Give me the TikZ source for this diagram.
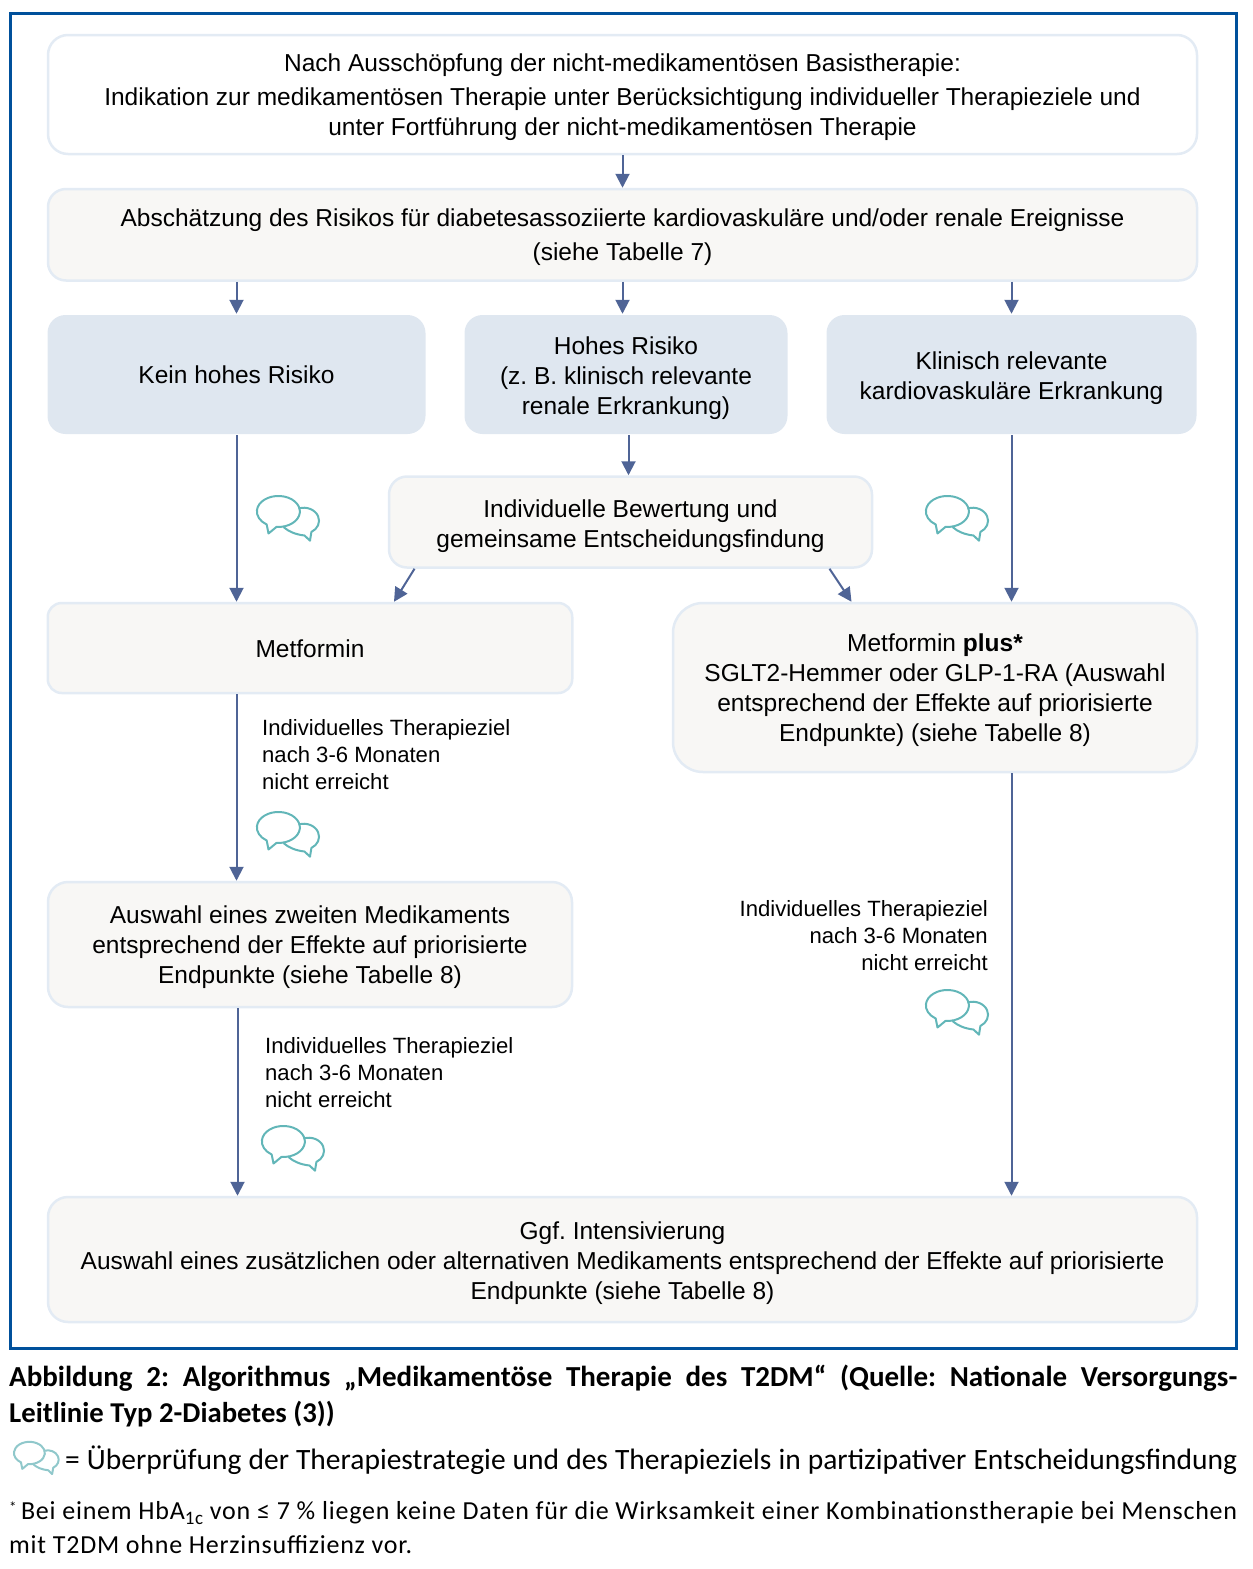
\documentclass[tikz,border=0pt]{standalone}
\usepackage{fontspec}
\setmainfont{Liberation Sans}
\newfontfamily\capfont{Carlito}
\usetikzlibrary{arrows.meta}
\definecolor{rahmen}{HTML}{00509B}
\definecolor{kante}{HTML}{E3EBF4}
\definecolor{grau}{HTML}{F8F7F5}
\definecolor{blau}{HTML}{DFE7F0}
\definecolor{pfeilfarbe}{HTML}{4F6496}
\definecolor{blase}{HTML}{62B6B8}
\definecolor{blasehell}{HTML}{90C8CB}
\tikzset{
  whitebox/.style={draw=kante,line width=2.5pt,fill=white,rounded corners=20pt,inner sep=0pt},
  greybox/.style={whitebox,fill=grau},
  bluebox/.style={whitebox,draw=none,fill=blau,rounded corners=18pt},
  boxtext/.style={align=center,inner sep=0pt,font=\fontsize{24.5}{30}\selectfont},
  hint/.style={inner sep=0pt,font=\fontsize{22.1}{27}\selectfont},
  pfeil/.style={draw=pfeilfarbe,line width=2pt,-{Triangle[length=14pt,width=14pt]}},
  caption/.style={anchor=base west,inner sep=0pt},
  bubbles/.pic={
    \draw[pic actions,line width=2pt,line join=round] (-2,-15.4) arc[start angle=-95,end angle=237,x radius=21.5,y radius=15.5] -- (-10,-22) -- cycle;
    \draw[pic actions,line width=2pt,line join=round] (20,3) arc[start angle=110,end angle=-60,x radius=15.3,y radius=13] -- (31.5,-29.2) -- (26,-24) .. controls (17,-23) and (10,-20) .. (5,-15.5);
  }
}
\begin{document}
\frenchspacing
\begin{tikzpicture}[x=1pt,y=1pt]
\useasboundingbox (0,0) rectangle (1253,-1569);
\draw[rahmen,line width=3pt] (10.5,-13.5) rectangle (1236,-1348);
% boxes
\node[whitebox,minimum width=1149pt,minimum height=119pt] (start) at (622.5,-94.5) {};
\node[greybox,minimum width=1149pt,minimum height=91.5pt,rounded corners=18pt] (risiko) at (622.5,-234.75) {};
\node[bluebox,minimum width=378pt,minimum height=119pt] (kein) at (236.5,-374.5) {};
\node[bluebox,minimum width=323pt,minimum height=119pt] (hoch) at (626,-374.5) {};
\node[bluebox,minimum width=370pt,minimum height=119pt] (klinisch) at (1011.5,-374.5) {};
\node[greybox,minimum width=483pt,minimum height=91pt,rounded corners=18pt] (indiv) at (630.5,-522) {};
\node[greybox,minimum width=524.5pt,minimum height=90pt,rounded corners=14pt] (metformin) at (310,-648) {};
\node[greybox,minimum width=524pt,minimum height=169pt,rounded corners=30pt] (plus) at (935,-687.5) {};
\node[greybox,minimum width=524pt,minimum height=125pt] (auswahl) at (310,-944.5) {};
\node[greybox,minimum width=1149pt,minimum height=125pt] (ggf) at (622.5,-1259.5) {};
% box texts
\node[boxtext] (startT) at ([yshift=-3pt]start) {Nach Ausschöpfung der nicht-medikamentösen Basistherapie:\\[4pt]
Indikation zur medikamentösen Therapie unter Berücksichtigung individueller Therapieziele und\\
unter Fortführung der nicht-medikamentösen Therapie};
\node[boxtext] (risikoT) at ([yshift=-2.5pt]risiko) {Abschätzung des Risikos für diabetesassoziierte kardiovaskuläre und/oder renale Ereignisse\\[4pt]
(siehe Tabelle 7)};
\node[boxtext] (keinT) at ([yshift=-0.5pt]kein) {Kein hohes Risiko};
\node[boxtext] (hochT) at ([yshift=-4pt]hoch) {Hohes Risiko\\(z. B. klinisch relevante\\renale Erkrankung)};
\node[boxtext] (klinischT) at ([yshift=-4pt]klinisch) {Klinisch relevante\\kardiovaskuläre Erkrankung};
\node[boxtext] (indivT) at ([yshift=-4pt]indiv) {Individuelle Bewertung und\\gemeinsame Entscheidungsfindung};
\node[boxtext] (metforminT) at ([yshift=-0.5pt]metformin) {Metformin};
\node[boxtext] (plusT) at ([yshift=-3pt]plus) {Metformin \textbf{plus*}\\SGLT2-Hemmer oder GLP-1-RA (Auswahl\\entsprechend der Effekte auf priorisierte\\Endpunkte) (siehe Tabelle 8)};
\node[boxtext] (auswahlT) at ([yshift=-3pt]auswahl) {Auswahl eines zweiten Medikaments\\entsprechend der Effekte auf priorisierte\\Endpunkte (siehe Tabelle 8)};
\node[boxtext] (ggfT) at ([yshift=-4pt]ggf) {Ggf. Intensivierung\\Auswahl eines zusätzlichen oder alternativen Medikaments entsprechend der Effekte auf priorisierte\\Endpunkte (siehe Tabelle 8)};
% arrows
\draw[pfeil] (start.south) -- (start.south |- risiko.north);
\draw[pfeil] (kein.north |- risiko.south) -- (kein.north);
\draw[pfeil] (risiko.south) -- (risiko.south |- hoch.north);
\draw[pfeil] (klinisch.north |- risiko.south) -- (klinisch.north);
\draw[pfeil] (kein.south) -- (kein.south |- metformin.north);
\draw[pfeil] ([xshift=2.5pt]hoch.south) -- ([xshift=2.5pt]hoch.south |- indiv.north);
\draw[pfeil] (klinisch.south) -- (klinisch.south |- plus.north);
\draw[pfeil] ([xshift=-216pt]indiv.south) -- ([xshift=84pt]metformin.north);
\draw[pfeil] ([xshift=199pt]indiv.south) -- ([xshift=-83.5pt]plus.north);
\draw[pfeil] (kein.south |- metformin.south) -- (kein.south |- auswahl.north);
\draw[pfeil] ([xshift=1pt]kein.south |- auswahl.south) -- ([xshift=1pt]kein.south |- ggf.north);
\draw[pfeil] (klinisch.south |- plus.south) -- (klinisch.south |- ggf.north);
% hints
\node[hint,anchor=west,align=left] (hintA) at (262,-755) {Individuelles Therapieziel\\nach 3-6 Monaten\\nicht erreicht};
\node[hint,anchor=west,align=left] (hintB) at (265,-1073) {Individuelles Therapieziel\\nach 3-6 Monaten\\nicht erreicht};
\node[hint,anchor=east,align=right] (hintC) at (988,-936) {Individuelles Therapieziel\\nach 3-6 Monaten\\nicht erreicht};
% speech bubbles
\foreach \px/\py in {278.5/-511.5,947.5/-511.5,278.5/-827.5,947.5/-1005.5,283.5/-1141.5}
  \pic[draw=blase] at (\px,\py) {bubbles};
\pic[draw=blasehell,scale=0.72] at (29.5,-1453) {bubbles};
% caption
\node[caption] (capA) at (9,-1386) {\capfont\fontsize{29}{34}\selectfont\bfseries\makebox[1228pt][s]{Abbildung 2: Algorithmus „Medikamentöse Therapie des T2DM“ (Quelle: Nationale Versorgungs-}};
\node[caption] (capB) at (9,-1422) {\capfont\fontsize{28.7}{34}\selectfont\bfseries Leitlinie Typ 2-Diabetes (3))};
\node[caption] (legende) at (65,-1469) {\capfont\fontsize{29.5}{34}\selectfont\makebox[1172pt][s]{= Überprüfung der Therapiestrategie und des Therapieziels in partizipativer Entscheidungsfindung}};
\node[caption] (noteA) at (9,-1519) {\capfont\fontsize{26}{32}\selectfont\addfontfeature{LetterSpace=3}\makebox[1228pt][s]{\raisebox{7pt}{\fontsize{15}{15}\selectfont *}\,Bei einem HbA\raisebox{-5pt}{\fontsize{19}{19}\selectfont 1c} von ≤ 7 \% liegen keine Daten für die Wirksamkeit einer Kombinationstherapie bei Menschen}};
\node[caption] (noteB) at (9,-1553) {\capfont\fontsize{26}{32}\selectfont\addfontfeature{LetterSpace=3}mit T2DM ohne Herzinsuffizienz vor.};
\end{tikzpicture}
\end{document}
